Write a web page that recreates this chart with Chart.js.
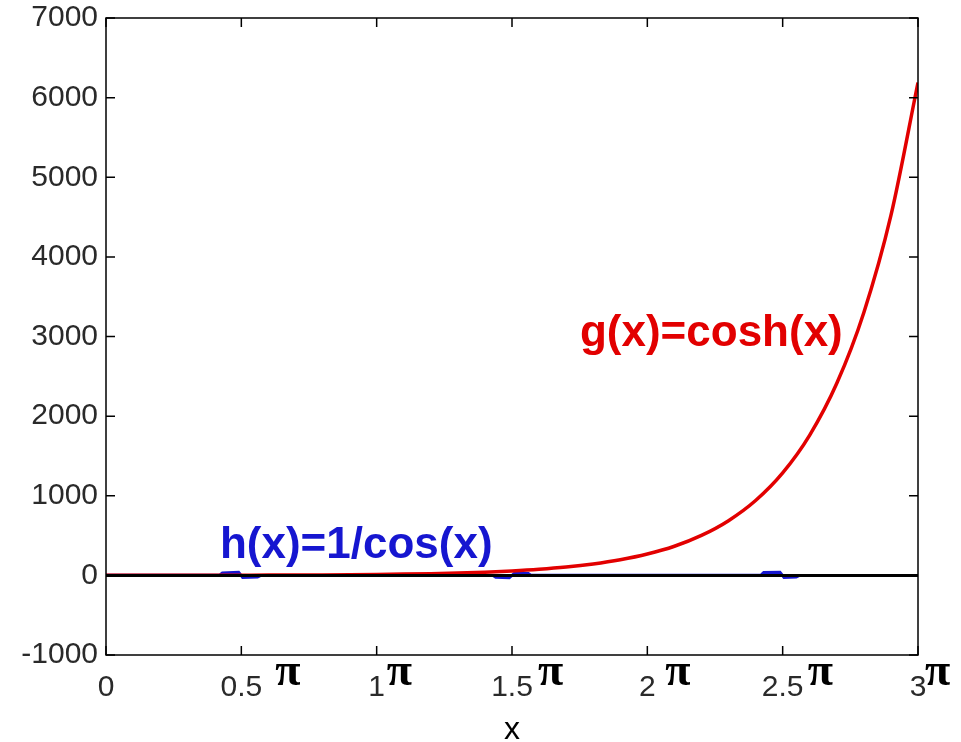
<!DOCTYPE html>
<html>
<head>
<meta charset="utf-8">
<script src="https://cdn.jsdelivr.net/npm/chart.js@4.4.1/dist/chart.umd.min.js"></script>
<style>
  html, body { margin: 0; padding: 0; background: #fff; }
  #wrap { width: 961px; height: 742px; }
</style>
</head>
<body>
<div id="wrap"><canvas id="myChart"></canvas></div>
<script>
// x values are in units of pi
const xTicks = [0, 0.5, 1, 1.5, 2, 2.5, 3];
const yTicks = [-1000, 0, 1000, 2000, 3000, 4000, 5000, 6000, 7000];

// g(x) = cosh(x)
const coshX = [0, 0.1, 0.2, 0.3, 0.4, 0.5, 0.6, 0.7, 0.8, 0.9, 1.0, 1.1, 1.2, 1.3, 1.4, 1.5,
               1.6, 1.7, 1.8, 1.9, 2.0, 2.1, 2.2, 2.3, 2.4, 2.5, 2.6, 2.7, 2.8, 2.9, 3.0];
const coshY = [1, 1.05, 1.2, 1.5, 1.9, 2.5, 3.4, 4.6, 6.2, 8.5, 11.6, 15.9, 21.7, 29.7, 40.7, 55.7,
               76, 104, 143, 196, 268, 366, 502, 687, 940, 1287, 1762, 2412, 3302, 4520, 6190];

// h(x) = 1/cos(x), the blue line (only small blips near the asymptotes show)
const secX = [0, 0.2, 0.35, 0.42, 0.43, 0.49, 0.505, 0.56, 0.57, 0.7, 1.0, 1.3, 1.43, 1.44, 1.49,
              1.51, 1.56, 1.57, 1.7, 2.0, 2.3, 2.42, 2.43, 2.49, 2.505, 2.55, 2.56, 2.7, 3.0];
const secY = [1, 1.2, 2.2, 3, 30, 40, -25, -20, -3, -1.7, -1, -1.7, -3, -25, -30,
              30, 25, 3, 1.7, 1, 1.7, 3, 35, 40, -25, -20, -3, -1.7, -1];

// the y = 0 line
const zeroX = [0, 3];
const zeroY = [0, 0];

const toPoints = (xs, ys) => xs.map((x, i) => ({ x: x, y: ys[i] }));

const RED = 'rgb(226,0,0)';
const BLUE = 'rgb(22,22,208)';

// box, inward tick marks, pi symbols and the curve labels
const decorations = {
  id: 'decorations',
  afterDraw(chart) {
    const ctx = chart.ctx;
    const a = chart.chartArea;
    const xs = chart.scales.x, ys = chart.scales.y;
    const tick = 9;
    ctx.save();
    ctx.strokeStyle = '#000';
    ctx.lineWidth = 1.5;
    ctx.strokeRect(a.left, a.top, a.right - a.left, a.bottom - a.top);
    ctx.beginPath();
    xTicks.forEach(v => {
      const px = xs.getPixelForValue(v);
      ctx.moveTo(px, a.bottom); ctx.lineTo(px, a.bottom - tick);
      ctx.moveTo(px, a.top); ctx.lineTo(px, a.top + tick);
    });
    yTicks.forEach(v => {
      const py = ys.getPixelForValue(v);
      ctx.moveTo(a.left, py); ctx.lineTo(a.left + tick, py);
      ctx.moveTo(a.right, py); ctx.lineTo(a.right - tick, py);
    });
    ctx.stroke();

    // pi after every tick label except 0
    const piShift = [0, 34, 10, 26, 18, 25, 7];
    ctx.fillStyle = '#000';
    ctx.font = 'bold 46px "Liberation Serif"';
    ctx.textAlign = 'left';
    ctx.textBaseline = 'alphabetic';
    xTicks.forEach((v, i) => {
      if (v === 0) return;
      ctx.fillText('\u03c0', xs.getPixelForValue(v) + piShift[i], a.bottom + 30);
    });

    // curve labels, anchored in data units
    ctx.font = 'bold 44px "Liberation Sans"';
    ctx.fillStyle = RED;
    ctx.fillText('g(x)=cosh(x)', xs.getPixelForValue(1.751), ys.getPixelForValue(2875));
    ctx.fillStyle = BLUE;
    ctx.fillText('h(x)=1/cos(x)', xs.getPixelForValue(0.421), ys.getPixelForValue(213));
    ctx.restore();
  }
};

const ctx = document.getElementById('myChart').getContext('2d');
const myChart = new Chart(ctx, {
  type: 'line',
  data: {
    datasets: [
      {
        label: 'zero',
        data: toPoints(zeroX, zeroY),
        borderColor: '#000',
        borderWidth: 3,
        pointRadius: 0
      },
      {
        label: 'g(x)=cosh(x)',
        data: toPoints(coshX, coshY),
        borderColor: RED,
        borderWidth: 3.5,
        pointRadius: 0,
        cubicInterpolationMode: 'monotone'
      },
      {
        label: 'h(x)=1/cos(x)',
        data: toPoints(secX, secY),
        borderColor: BLUE,
        borderWidth: 3,
        pointRadius: 0,
        tension: 0
      }
    ]
  },
  options: {
    responsive: true,
    maintainAspectRatio: false,
    animation: false,
    layout: { padding: { left: 0, top: 17, right: 43, bottom: 0 } },
    plugins: {
      legend: { display: false },
      tooltip: { enabled: false }
    },
    scales: {
      x: {
        type: 'linear',
        min: 0,
        max: 3,
        grid: { display: false },
        border: { display: false },
        afterBuildTicks: function(scale) {
          scale.ticks = xTicks.map(v => ({ value: v }));
        },
        afterFit: function(scale) { scale.height = 87; },
        ticks: {
          padding: 7,
          color: '#2a2a2a',
          font: { family: 'Liberation Sans', size: 30 },
          maxRotation: 0,
          callback: v => String(v)
        },
        title: {
          display: true,
          text: 'x',
          color: '#000',
          font: { family: 'Liberation Sans', size: 32, lineHeight: 1 },
          padding: { top: 0, bottom: -4 }
        }
      },
      y: {
        min: -1000,
        max: 7000,
        grid: { display: false },
        border: { display: false },
        afterBuildTicks: function(scale) {
          scale.ticks = yTicks.map(v => ({ value: v }));
        },
        afterFit: function(scale) { scale.width = 106; },
        ticks: {
          padding: 0,
          color: '#2a2a2a',
          font: { family: 'Liberation Sans', size: 30 },
          callback: v => String(v)
        }
      }
    }
  },
  plugins: [decorations]
});
</script>
</body>
</html>
